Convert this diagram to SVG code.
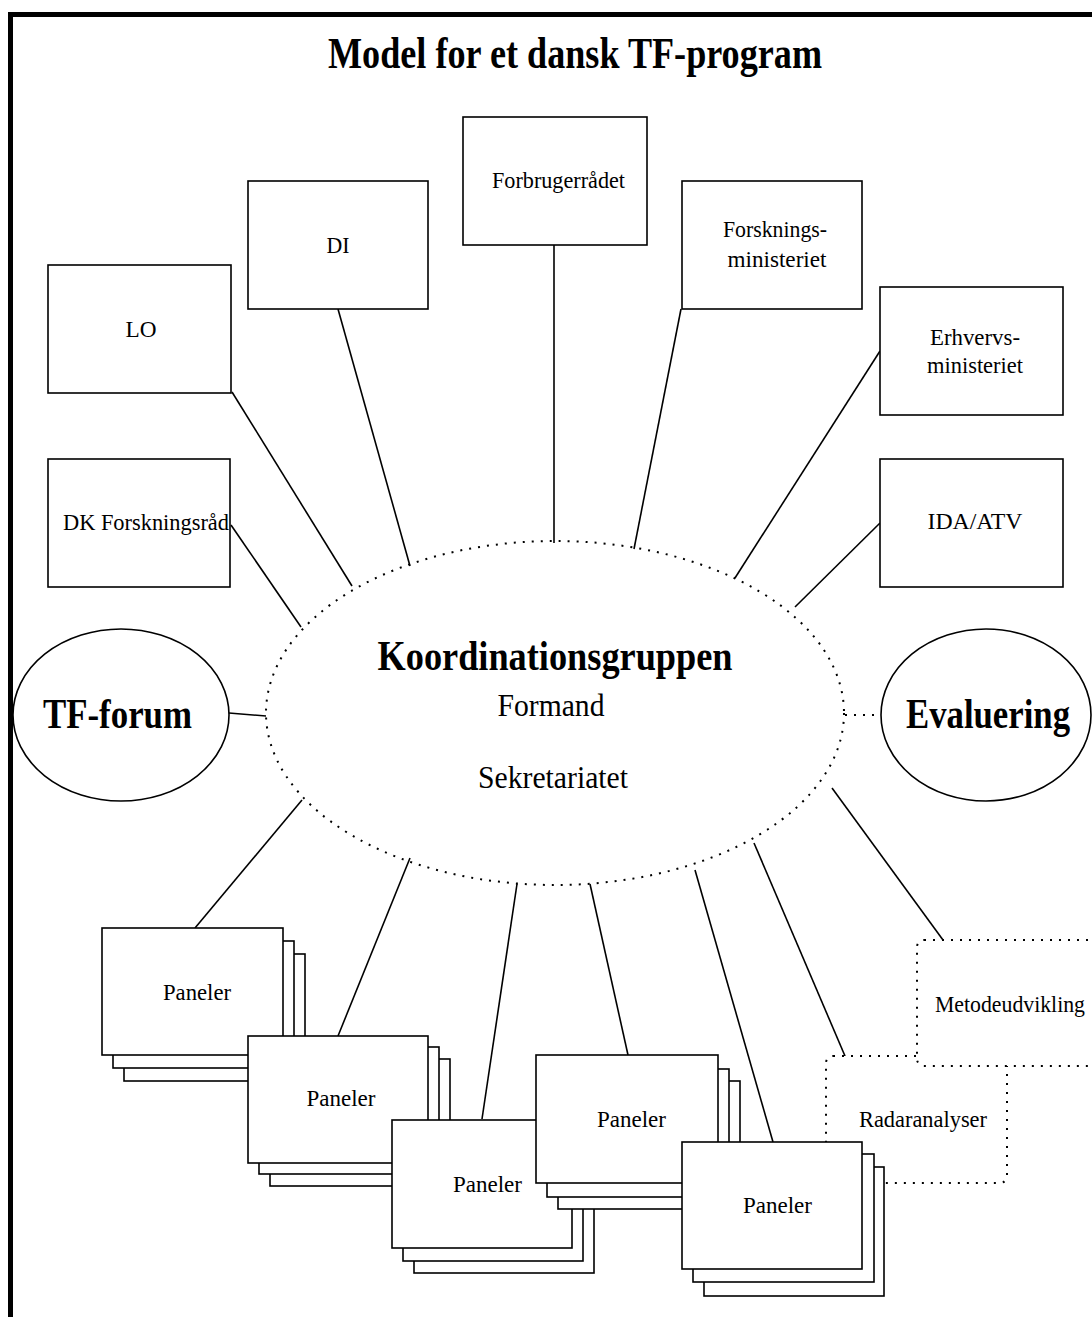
<svg xmlns="http://www.w3.org/2000/svg" width="1092" height="1317" viewBox="0 0 1092 1317">
<style>
text{font-family:"Liberation Serif","Times New Roman",serif;fill:#000;text-anchor:middle}
.b{font-weight:bold;font-size:42px}
.t{font-size:24px}
.m{font-size:32px}
.box{fill:#fff;stroke:#000;stroke-width:1.6}
.dot{fill:#fff;stroke:#000;stroke-width:2;stroke-dasharray:2 7}
.ln{stroke:#000;stroke-width:1.6;fill:none}
.dl{stroke:#000;stroke-width:2;stroke-dasharray:2 7;fill:none}
</style>
<rect width="1092" height="1317" fill="#fff"/>
<path d="M10.5,1317 V14.5 H1092" fill="none" stroke="#000" stroke-width="5"/>
<text class="b" x="575" y="68" style="font-size:44px" textLength="494" lengthAdjust="spacingAndGlyphs">Model for et dansk TF-program</text>

<g id="connectors">
<line class="ln" x1="231" y1="525" x2="301" y2="627"/>
<line class="ln" x1="232" y1="392" x2="352" y2="586"/>
<line class="ln" x1="338" y1="309" x2="410" y2="566"/>
<line class="ln" x1="554" y1="245" x2="554" y2="543"/>
<line class="ln" x1="681" y1="309" x2="634" y2="549"/>
<line class="ln" x1="880" y1="351" x2="735" y2="578"/>
<line class="ln" x1="880" y1="523" x2="795" y2="607"/>
<line class="ln" x1="229" y1="713" x2="266" y2="716"/>
<line class="dl" x1="845" y1="715" x2="881" y2="715"/>
<line class="ln" x1="302" y1="800" x2="195" y2="928"/>
<line class="ln" x1="410" y1="858" x2="338" y2="1036"/>
<line class="ln" x1="517" y1="884" x2="482" y2="1119"/>
<line class="ln" x1="590" y1="884" x2="628" y2="1055"/>
<line class="ln" x1="695" y1="870" x2="773" y2="1142"/>
<line class="ln" x1="754" y1="843" x2="845" y2="1056"/>
<line class="ln" x1="832" y1="788" x2="943" y2="940"/>
</g>

<g id="koordinationsgruppen">
<ellipse class="dot" cx="555" cy="713" rx="289" ry="172" style="fill:none"/>
<text class="b" x="555" y="670" textLength="355" lengthAdjust="spacingAndGlyphs">Koordinationsgruppen</text>
<text class="m" x="551" y="716" textLength="107" lengthAdjust="spacingAndGlyphs">Formand</text>
<text class="m" x="553" y="788" textLength="150" lengthAdjust="spacingAndGlyphs">Sekretariatet</text>
</g>

<g id="forbrugerraadet">
<rect class="box" x="463" y="117" width="184" height="128"/>
<text class="t" x="558.5" y="188" textLength="133" lengthAdjust="spacingAndGlyphs">Forbrugerrådet</text>
</g>
<g id="di">
<rect class="box" x="248" y="181" width="180" height="128"/>
<text class="t" x="338" y="253" textLength="23" lengthAdjust="spacingAndGlyphs">DI</text>
</g>
<g id="lo">
<rect class="box" x="48" y="265" width="183" height="128"/>
<text class="t" x="141" y="337" textLength="31" lengthAdjust="spacingAndGlyphs">LO</text>
</g>
<g id="forskningsministeriet">
<rect class="box" x="682" y="181" width="180" height="128"/>
<text class="t" x="775" y="237" textLength="104" lengthAdjust="spacingAndGlyphs">Forsknings-</text>
<text class="t" x="777" y="267" textLength="99" lengthAdjust="spacingAndGlyphs">ministeriet</text>
</g>
<g id="erhvervsministeriet">
<rect class="box" x="880" y="287" width="183" height="128"/>
<text class="t" x="975" y="345" textLength="90" lengthAdjust="spacingAndGlyphs">Erhvervs-</text>
<text class="t" x="975" y="373" textLength="96" lengthAdjust="spacingAndGlyphs">ministeriet</text>
</g>
<g id="ida-atv">
<rect class="box" x="880" y="459" width="183" height="128"/>
<text class="t" x="975" y="529" textLength="95" lengthAdjust="spacingAndGlyphs">IDA/ATV</text>
</g>
<g id="dk-forskningsraad">
<rect class="box" x="48" y="459" width="182" height="128"/>
<text class="t" x="146" y="530" textLength="166" lengthAdjust="spacingAndGlyphs">DK Forskningsråd</text>
</g>

<g id="tf-forum">
<ellipse class="box" cx="121" cy="715" rx="108" ry="86"/>
<text class="b" x="117.5" y="728" textLength="149" lengthAdjust="spacingAndGlyphs">TF-forum</text>
</g>
<g id="evaluering">
<ellipse class="box" cx="986" cy="715" rx="105" ry="86"/>
<text class="b" x="988" y="728" textLength="164" lengthAdjust="spacingAndGlyphs">Evaluering</text>
</g>

<g id="radaranalyser">
<rect class="dot" x="826" y="1056" width="181" height="127" rx="7"/>
<text class="t" x="923" y="1127" textLength="128" lengthAdjust="spacingAndGlyphs">Radaranalyser</text>
</g>
<g id="metodeudvikling">
<rect class="dot" x="917" y="940" width="182" height="126" rx="7"/>
<text class="t" x="1010" y="1012" textLength="150" lengthAdjust="spacingAndGlyphs">Metodeudvikling</text>
</g>

<g id="paneler1">
<rect class="box" x="124" y="954" width="181" height="127"/>
<rect class="box" x="113" y="941" width="181" height="127"/>
<rect class="box" x="102" y="928" width="181" height="127"/>
<text class="t" x="197" y="1000" textLength="68" lengthAdjust="spacingAndGlyphs">Paneler</text>
</g>
<g id="paneler2">
<rect class="box" x="270" y="1059" width="180" height="127"/>
<rect class="box" x="259" y="1047" width="180" height="127"/>
<rect class="box" x="248" y="1036" width="180" height="127"/>
<text class="t" x="341" y="1106" textLength="69" lengthAdjust="spacingAndGlyphs">Paneler</text>
</g>
<g id="paneler3">
<rect class="box" x="414" y="1145" width="180" height="128"/>
<rect class="box" x="403" y="1133" width="180" height="128"/>
<rect class="box" x="392" y="1120" width="180" height="128"/>
<text class="t" x="487.5" y="1192" textLength="69" lengthAdjust="spacingAndGlyphs">Paneler</text>
</g>
<g id="paneler4">
<rect class="box" x="558" y="1081" width="182" height="128"/>
<rect class="box" x="547" y="1069" width="182" height="128"/>
<rect class="box" x="536" y="1055" width="182" height="128"/>
<text class="t" x="631.5" y="1127" textLength="69" lengthAdjust="spacingAndGlyphs">Paneler</text>
</g>
<g id="paneler5">
<rect class="box" x="704" y="1167" width="180" height="129"/>
<rect class="box" x="693" y="1154" width="181" height="128"/>
<rect class="box" x="682" y="1142" width="180" height="127"/>
<text class="t" x="777.5" y="1213" textLength="69" lengthAdjust="spacingAndGlyphs">Paneler</text>
</g>
</svg>
